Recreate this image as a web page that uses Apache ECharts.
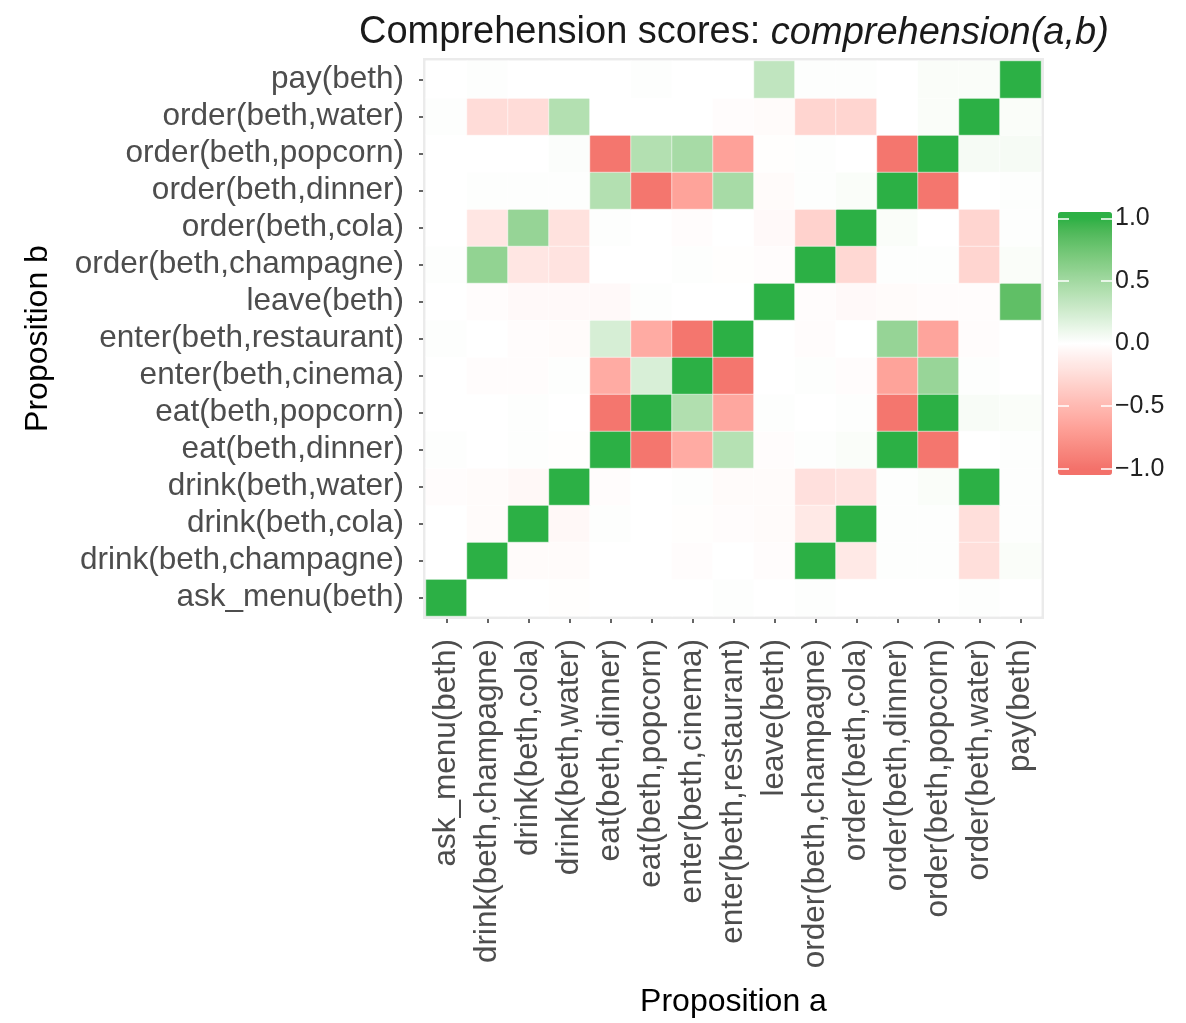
<!DOCTYPE html>
<html>
<head>
<meta charset="utf-8">
<script src="https://cdn.jsdelivr.net/npm/echarts@6/dist/echarts.min.js"></script>
<style>html,body{margin:0;padding:0;background:#fff;}#c{width:1186px;height:1023px;}</style>
</head>
<body>
<div id="c"></div>
<script>
// Propositions (same order for a = columns and b = rows, bottom to top)
const propositions = [
  'ask_menu(beth)', 'drink(beth,champagne)', 'drink(beth,cola)', 'drink(beth,water)',
  'eat(beth,dinner)', 'eat(beth,popcorn)', 'enter(beth,cinema)', 'enter(beth,restaurant)',
  'leave(beth)', 'order(beth,champagne)', 'order(beth,cola)', 'order(beth,dinner)',
  'order(beth,popcorn)', 'order(beth,water)', 'pay(beth)'
];

// comprehension(a,b): one array per proposition b, values over propositions a
const b_ask_menu      = [1, 0, 0, -0.01, 0, 0, 0, 0.01, 0, 0.01, 0, 0, 0, 0.01, 0];
const b_drink_champ   = [0, 1, -0.03, -0.03, 0, 0, -0.02, 0, -0.02, 1, -0.16, 0.01, 0.01, -0.23, 0.03];
const b_drink_cola    = [0, -0.03, 1, -0.05, 0.01, 0, -0.01, -0.02, -0.03, -0.16, 1, 0.01, 0.01, -0.23, 0.01];
const b_drink_water   = [-0.02, -0.03, -0.05, 1, -0.02, 0, 0.01, -0.03, -0.03, -0.22, -0.2, 0.01, 0.03, 1, 0.01];
const b_eat_dinner    = [0.01, 0, 0.01, -0.01, 1, -0.97, -0.6, 0.4, -0.02, 0.01, 0.03, 1, -0.97, 0, 0.01];
const b_eat_popcorn   = [0, 0, 0.01, 0, -0.97, 1, 0.42, -0.63, 0.01, 0, 0.01, -0.97, 1, 0.04, 0.03];
const b_enter_cinema  = [0, -0.02, -0.02, 0.01, -0.6, 0.21, 1, -0.97, 0, 0.01, -0.02, -0.66, 0.55, 0.01, 0];
const b_enter_rest    = [0.01, 0, -0.02, -0.03, 0.22, -0.6, -0.97, 1, 0, -0.02, 0, 0.56, -0.65, -0.02, 0];
const b_leave         = [0, -0.02, -0.04, -0.04, -0.04, 0.01, 0, 0, 1, -0.02, -0.04, -0.03, -0.02, -0.02, 0.82];
const b_order_champ   = [0.01, 0.58, -0.18, -0.2, 0, 0, 0.01, -0.01, -0.02, 1, -0.28, 0.01, 0.01, -0.3, 0.03];
const b_order_cola    = [0, -0.18, 0.56, -0.21, 0.01, 0, -0.02, 0, -0.04, -0.32, 1, 0.03, 0, -0.3, 0.01];
const b_order_dinner  = [0, 0.01, 0.01, 0.01, 0.41, -0.97, -0.66, 0.47, -0.03, 0.01, 0.03, 1, -0.97, 0, 0.01];
const b_order_popcorn = [0, 0, 0, 0.02, -0.97, 0.41, 0.47, -0.67, -0.01, 0.01, 0, -0.97, 1, 0.05, 0.05];
const b_order_water   = [0.01, -0.25, -0.25, 0.41, 0, 0, 0, -0.02, -0.03, -0.3, -0.3, 0, 0.03, 1, 0.03];
const b_pay           = [0, 0.01, 0, 0, 0, 0.01, 0, 0, 0.34, 0.01, 0.01, 0, 0.03, 0.03, 1];

const rowsB = [b_ask_menu, b_drink_champ, b_drink_cola, b_drink_water, b_eat_dinner, b_eat_popcorn,
  b_enter_cinema, b_enter_rest, b_leave, b_order_champ, b_order_cola, b_order_dinner,
  b_order_popcorn, b_order_water, b_pay];

const legendTicks = [-1, -0.5, 0, 0.5, 1];
const lowColor = '#f3716a', midColor = '#ffffff', highColor = '#2cb045';

// ---- diverging palette interpolated in CIELAB (style only) ----
function hexToRgb(h) { return [1, 3, 5].map(i => parseInt(h.substr(i, 2), 16)); }
function toLin(c) { c /= 255; return c <= 0.04045 ? c / 12.92 : Math.pow((c + 0.055) / 1.055, 2.4); }
function fromLin(c) { c = c <= 0.0031308 ? 12.92 * c : 1.055 * Math.pow(c, 1 / 2.4) - 0.055; return Math.max(0, Math.min(255, Math.round(c * 255))); }
function rgbToLab(rgb) {
  const [r, g, b] = rgb.map(toLin);
  const X = (0.4124 * r + 0.3576 * g + 0.1805 * b) / 0.95047;
  const Y = (0.2126 * r + 0.7152 * g + 0.0722 * b);
  const Z = (0.0193 * r + 0.1192 * g + 0.9505 * b) / 1.08883;
  const f = t => t > 0.008856 ? Math.cbrt(t) : 7.787 * t + 16 / 116;
  const fx = f(X), fy = f(Y), fz = f(Z);
  return [116 * fy - 16, 500 * (fx - fy), 200 * (fy - fz)];
}
function labToHex(lab) {
  const fy = (lab[0] + 16) / 116, fx = fy + lab[1] / 500, fz = fy - lab[2] / 200;
  const fi = t => t > 0.206893 ? t * t * t : (t - 16 / 116) / 7.787;
  const X = fi(fx) * 0.95047, Y = fi(fy), Z = fi(fz) * 1.08883;
  const r = 3.2406 * X - 1.5372 * Y - 0.4986 * Z;
  const g = -0.9689 * X + 1.8758 * Y + 0.0415 * Z;
  const b = 0.0557 * X - 0.2040 * Y + 1.0570 * Z;
  return '#' + [r, g, b].map(c => fromLin(c).toString(16).padStart(2, '0')).join('');
}
const labLow = rgbToLab(hexToRgb(lowColor)), labMid = rgbToLab(hexToRgb(midColor)), labHigh = rgbToLab(hexToRgb(highColor));
function colorAt(v) {
  v = Math.max(-1, Math.min(1, v));
  const end = v < 0 ? labLow : labHigh, t = Math.abs(v);
  return labToHex(labMid.map((m, i) => m + (end[i] - m) * t));
}
function paletteFor(min, max, n) {
  const out = [];
  for (let i = 0; i < n; i++) out.push(colorAt(min + (max - min) * i / (n - 1)));
  return out;
}

const cells = [];
rowsB.forEach((row, yi) => row.forEach((v, xi) => cells.push([xi, yi, v])));

const FONT = 'Liberation Sans, Arial, sans-serif';
const chart = echarts.init(document.getElementById('c'), null, {renderer: 'canvas'});
chart.setOption({
  backgroundColor: '#ffffff',
  animation: false,
  title: {
    text: '{a|Comprehension scores: }{b|comprehension(a,b)}',
    left: 354, top: 9,
    textStyle: {
      fontWeight: 'normal',
      rich: {
        a: {fontFamily: FONT, fontSize: 38, fontWeight: 'normal', color: '#1a1a1a'},
        b: {fontFamily: FONT, fontSize: 38, fontWeight: 'normal', color: '#1a1a1a', fontStyle: 'italic'}
      }
    }
  },
  grid: [
    {left: 426, top: 61, width: 615, height: 561, show: true, backgroundColor: '#ebebeb',
     borderColor: '#ebebeb', borderWidth: 6},
    {left: 1058, top: 212, width: 54, height: 263, show: false}
  ],
  xAxis: [
    {type: 'category', gridIndex: 0, data: propositions, offset: 3,
     name: 'Proposition a', nameLocation: 'middle', nameGap: 367,
     nameTextStyle: {fontFamily: FONT, fontSize: 32, color: '#000'},
     axisLine: {show: false},
     axisTick: {show: true, alignWithLabel: true, length: 4, lineStyle: {color: '#333', width: 1.5}},
     axisLabel: {rotate: 90, margin: 20, interval: 0, fontFamily: FONT, fontSize: 31.5, color: '#4d4d4d'},
     splitLine: {show: false}},
    {type: 'value', gridIndex: 1, show: false, min: 0, max: 1}
  ],
  yAxis: [
    {type: 'category', gridIndex: 0, data: propositions, offset: 3,
     name: 'Proposition b', nameLocation: 'middle', nameGap: 369,
     nameTextStyle: {fontFamily: FONT, fontSize: 32, color: '#000'},
     axisLine: {show: false},
     axisTick: {show: true, alignWithLabel: true, length: 4, lineStyle: {color: '#333', width: 1.5}},
     axisLabel: {margin: 19, interval: 0, fontFamily: FONT, fontSize: 31.5, color: '#4d4d4d'},
     splitLine: {show: false}},
    {type: 'value', gridIndex: 1, position: 'left', min: -1.05, max: 1.05, z: 10,
     axisLine: {show: false}, splitLine: {show: false},
     axisTick: {show: true, inside: true, length: 11, customValues: legendTicks, lineStyle: {color: '#ffffff', width: 1.5}},
     axisLabel: {show: false}},
    {type: 'value', gridIndex: 1, position: 'right', min: -1.05, max: 1.05, z: 10,
     axisLine: {show: false}, splitLine: {show: false},
     axisTick: {show: true, inside: true, length: 11, customValues: legendTicks, lineStyle: {color: '#ffffff', width: 1.5}},
     axisLabel: {show: true, customValues: legendTicks, margin: 3, fontFamily: FONT, fontSize: 25, color: '#222',
       formatter: v => (v < 0 ? '\u2212' : '') + Math.abs(v).toFixed(1)}}
  ],
  visualMap: [
    {type: 'continuous', show: false, min: -1, max: 1, seriesIndex: 0, dimension: 2,
     inRange: {color: paletteFor(-1, 1, 41)}},
    {type: 'continuous', show: true, min: -1.05, max: 1.05, seriesIndex: 1,
     left: 1058, top: 212, itemWidth: 54, itemHeight: 263, padding: 0,
     calculable: false, hoverLink: false, text: null, showLabel: false,
     inRange: {color: paletteFor(-1.05, 1.05, 43)}}
  ],
  series: [
    {type: 'heatmap', xAxisIndex: 0, yAxisIndex: 0, data: cells,
     itemStyle: {borderColor: 'rgba(255,255,255,0.55)', borderWidth: 1},
     emphasis: {disabled: true}},
    {type: 'scatter', xAxisIndex: 1, yAxisIndex: 1, data: []}
  ]
});
</script>
</body>
</html>
